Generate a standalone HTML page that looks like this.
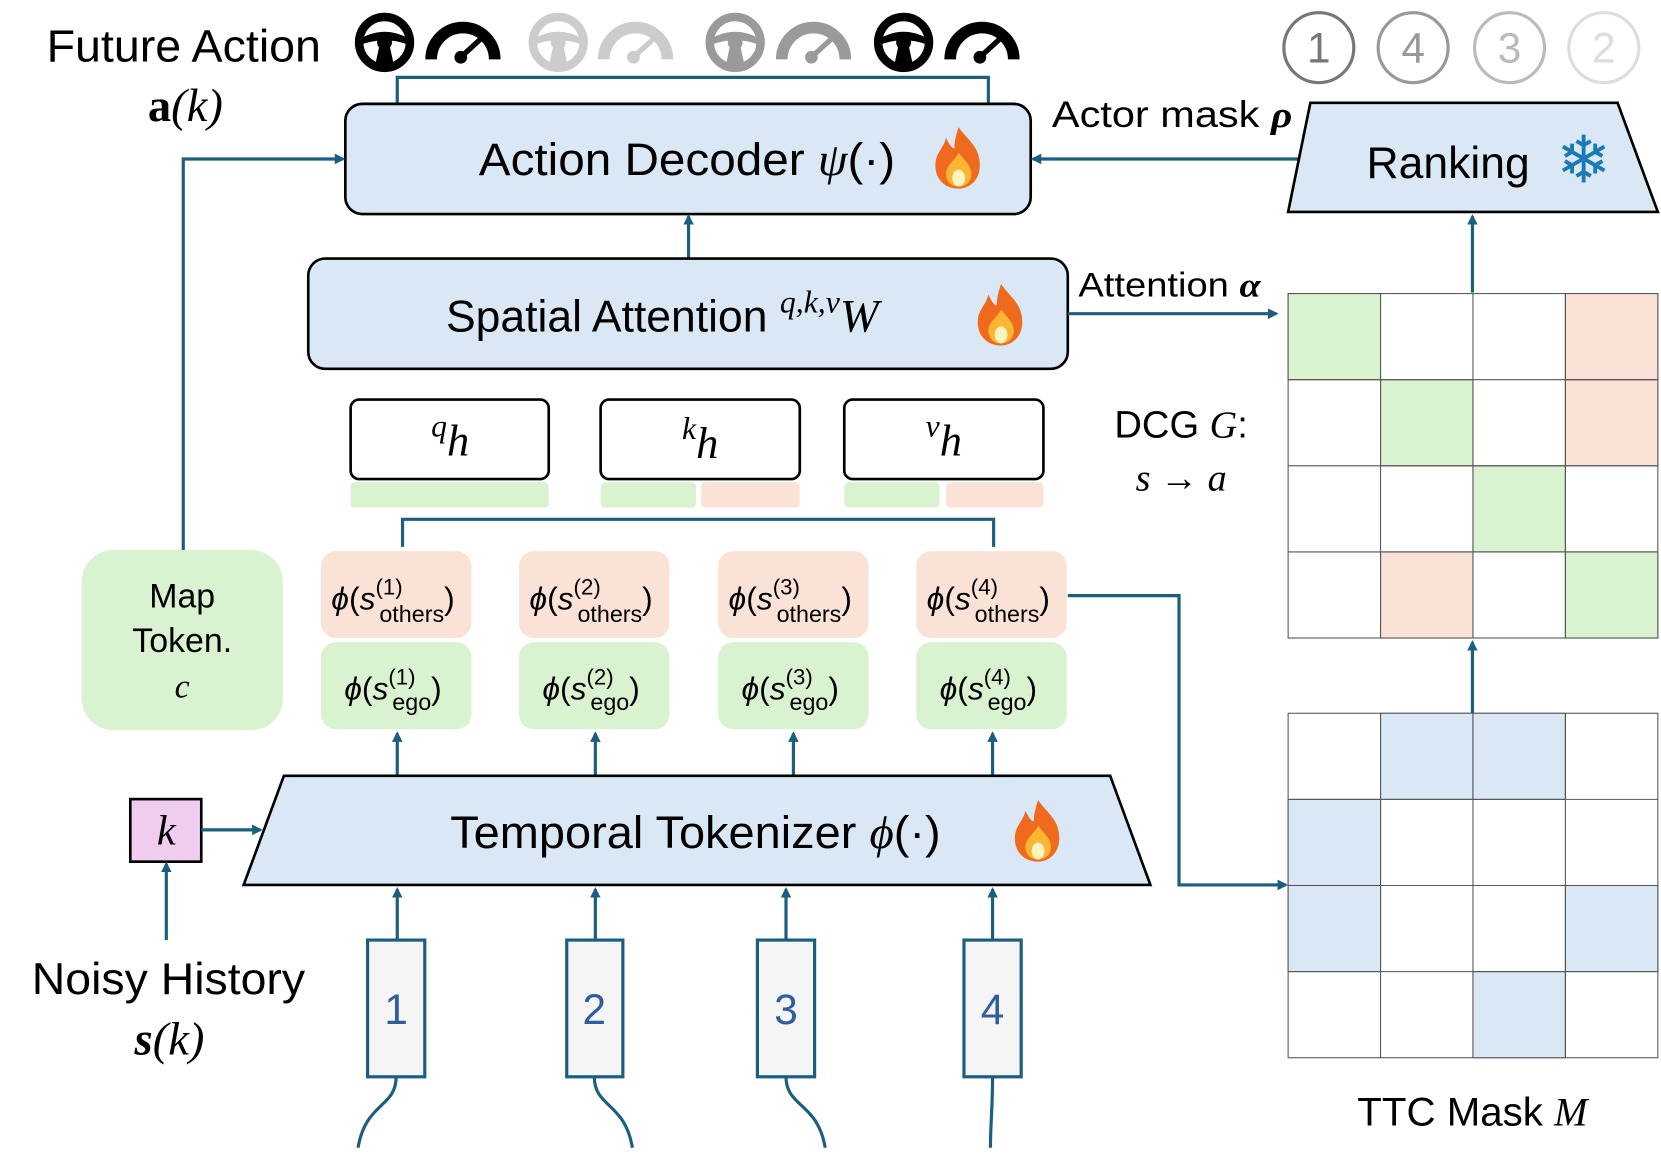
<!DOCTYPE html>
<html><head><meta charset="utf-8"><style>
html,body{margin:0;padding:0;background:#fff}
svg{display:block}
text{font-family:"Liberation Sans","DejaVu Sans",sans-serif}
.m{font-family:"Liberation Serif","DejaVu Serif",serif;font-style:italic}
</style></head><body>
<svg width="1661" height="1169" viewBox="0 0 1568 1103" preserveAspectRatio="none" xmlns="http://www.w3.org/2000/svg">
<defs>
<marker id="ar" markerWidth="10" markerHeight="10" refX="8" refY="5" orient="auto" markerUnits="userSpaceOnUse"><path d="M0,0 L10,5 L0,10 z" fill="#1b5f80"/></marker>
<g id="wheel"><circle r="24" fill="none" stroke-width="8" stroke="currentColor"/><circle r="7" fill="currentColor"/><path d="M-22,-4 Q0,-16 22,-4 L22,2 Q0,-6 -22,2z M-5,4 L-9,22 L9,22 L5,4z" fill="currentColor"/></g>
<g id="gauge"><path d="M-30,18 A30,30 0 0 1 30,18" fill="none" stroke="currentColor" stroke-width="11"/><path d="M-2,16 L22,-6" stroke="currentColor" stroke-width="5"/><circle cx="-2" cy="16" r="6" fill="currentColor"/></g>
<g id="fire"><path d="M0,-30 C8,-18 20,-12 20,6 C20,20 10,28 0,28 C-12,28 -22,20 -22,6 C-22,-6 -14,-10 -12,-20 C-8,-12 -6,-10 -4,-10 C-4,-18 -2,-24 0,-30z" fill="#f06a1e"/><path d="M0,-6 C6,2 12,6 12,14 C12,22 6,26 0,26 C-8,26 -12,20 -12,14 C-12,6 -4,2 0,-6z" fill="#fbb531"/><ellipse cx="0" cy="18" rx="6" ry="8" fill="#fff3c0"/></g>
</defs>

<text x="44" y="58" font-size="43" textLength="259" lengthAdjust="spacingAndGlyphs">Future Action</text>
<text x="175" y="114" font-size="44" class="m" text-anchor="middle"><tspan font-weight="bold" font-style="normal">a</tspan>(<tspan>k</tspan>)</text>

<g color="#000"><use href="#wheel" x="363" y="40"/><use href="#gauge" x="437" y="38"/></g>
<g color="#ccc"><use href="#wheel" x="527" y="40"/><use href="#gauge" x="600" y="38"/></g>
<g color="#9a9a9a"><use href="#wheel" x="694" y="40"/><use href="#gauge" x="768" y="38"/></g>
<g color="#000"><use href="#wheel" x="853" y="40"/><use href="#gauge" x="927" y="38"/></g>

<path d="M375,98 V73 H933 V98" fill="none" stroke="#1b5f80" stroke-width="3"/>

<rect x="326" y="98" width="647" height="104" rx="16" fill="#dae8f6" stroke="#000" stroke-width="2.5"/>
<text x="452" y="165" font-size="43" textLength="393" lengthAdjust="spacingAndGlyphs">Action Decoder <tspan class="m">ψ</tspan>(·)</text>
<use href="#fire" x="905" y="150"/>

<line x1="650" y1="243" x2="650" y2="204" stroke="#1b5f80" stroke-width="3" marker-end="url(#ar)"/>

<rect x="291" y="244" width="717" height="104" rx="16" fill="#dae8f6" stroke="#000" stroke-width="2.5"/>
<text x="421" y="313" font-size="42">Spatial Attention <tspan class="m" font-size="30" dy="-18">q,k,v</tspan><tspan class="m" font-size="44" dy="18">W</tspan></text>
<use href="#fire" x="945" y="298"/>

<line x1="1008" y1="296" x2="1205" y2="296" stroke="#1b5f80" stroke-width="3" marker-end="url(#ar)"/>
<text x="1018" y="280" font-size="32" textLength="172" lengthAdjust="spacingAndGlyphs">Attention <tspan class="m" font-weight="bold">α</tspan></text>
<text x="993" y="120" font-size="35" textLength="227" lengthAdjust="spacingAndGlyphs">Actor mask <tspan class="m" font-weight="bold">ρ</tspan></text>
<line x1="1233" y1="150" x2="975" y2="150" stroke="#1b5f80" stroke-width="3" marker-end="url(#ar)"/>

<polygon points="1237,97 1527,97 1565,200 1216,200" fill="#dae8f6" stroke="#000" stroke-width="2.5"/>
<text x="1367" y="168" font-size="42" text-anchor="middle">Ranking</text>
<text x="1495" y="172" font-size="62" text-anchor="middle" fill="#1a7ab5" font-family="DejaVu Sans">❄</text>

<g fill="none" stroke-width="3">
<circle cx="1245" cy="45" r="33" stroke="#777"/><circle cx="1334" cy="45" r="33" stroke="#999"/>
<circle cx="1425" cy="45" r="33" stroke="#bbb"/><circle cx="1514" cy="45" r="33" stroke="#ddd"/>
</g>
<g font-size="40" text-anchor="middle">
<text x="1245" y="59" fill="#777">1</text><text x="1334" y="59" fill="#999">4</text>
<text x="1425" y="59" fill="#bbb">3</text><text x="1514" y="59" fill="#ddd">2</text>
</g>

<line x1="1390" y1="276" x2="1390" y2="204" stroke="#1b5f80" stroke-width="3" marker-end="url(#ar)"/>

<g stroke="#555" stroke-width="1">
<rect x="1216" y="277" width="349" height="325" fill="#fff"/>
<rect x="1216" y="277" width="87.25" height="81.25" fill="#d9f2d0"/>
<rect x="1303.25" y="358.25" width="87.25" height="81.25" fill="#d9f2d0"/>
<rect x="1390.5" y="439.5" width="87.25" height="81.25" fill="#d9f2d0"/>
<rect x="1477.75" y="520.75" width="87.25" height="81.25" fill="#d9f2d0"/>
<rect x="1477.75" y="277" width="87.25" height="81.25" fill="#fbe2d6"/>
<rect x="1477.75" y="358.25" width="87.25" height="81.25" fill="#fbe2d6"/>
<rect x="1303.25" y="520.75" width="87.25" height="81.25" fill="#fbe2d6"/>
<path d="M1303.25,277V602M1390.5,277V602M1477.75,277V602M1216,358.25H1565M1216,439.5H1565M1216,520.75H1565" fill="none"/>
</g>
<text x="1052" y="413" font-size="36">DCG <tspan class="m">G</tspan>:</text>
<text x="1115" y="463" font-size="36" class="m" text-anchor="middle">s <tspan font-style="normal">→</tspan> a</text>

<line x1="1390" y1="673" x2="1390" y2="606" stroke="#1b5f80" stroke-width="3" marker-end="url(#ar)"/>

<g stroke="#555" stroke-width="1">
<rect x="1216" y="673" width="349" height="325" fill="#fff"/>
<rect x="1303.25" y="673" width="87.25" height="81.25" fill="#dae8f6"/>
<rect x="1390.5" y="673" width="87.25" height="81.25" fill="#dae8f6"/>
<rect x="1216" y="754.25" width="87.25" height="81.25" fill="#dae8f6"/>
<rect x="1216" y="835.5" width="87.25" height="81.25" fill="#dae8f6"/>
<rect x="1477.75" y="835.5" width="87.25" height="81.25" fill="#dae8f6"/>
<rect x="1390.5" y="916.75" width="87.25" height="81.25" fill="#dae8f6"/>
<path d="M1303.25,673V998M1390.5,673V998M1477.75,673V998M1216,754.25H1565M1216,835.5H1565M1216,916.75H1565" fill="none"/>
</g>
<text x="1390" y="1062" font-size="38" text-anchor="middle">TTC Mask <tspan class="m">M</tspan></text>

<path d="M1008,562 H1113 V835 H1214" fill="none" stroke="#1b5f80" stroke-width="3" marker-end="url(#ar)"/>

<g fill="#fff" stroke="#000" stroke-width="2.5">
<rect x="331" y="377" width="187" height="75" rx="8"/>
<rect x="567" y="377" width="188" height="75" rx="8"/>
<rect x="797" y="377" width="188" height="75" rx="8"/>
</g>
<g font-size="42" text-anchor="middle">
<text x="425" y="430" class="m"><tspan font-size="30" dy="-18">q</tspan><tspan dy="18">h</tspan></text>
<text x="661" y="432" class="m"><tspan font-size="30" dy="-18">k</tspan><tspan dy="18">h</tspan></text>
<text x="891" y="430" class="m"><tspan font-size="30" dy="-18">v</tspan><tspan dy="18">h</tspan></text>
</g>
<rect x="331" y="455" width="187" height="24" rx="4" fill="#d9f2d0"/>
<rect x="567" y="455" width="90" height="24" rx="4" fill="#d9f2d0"/>
<rect x="662" y="455" width="93" height="24" rx="4" fill="#fbe2d6"/>
<rect x="797" y="455" width="90" height="24" rx="4" fill="#d9f2d0"/>
<rect x="893" y="455" width="92" height="24" rx="4" fill="#fbe2d6"/>

<path d="M380,516 V490 H938 V516" fill="none" stroke="#1b5f80" stroke-width="3"/>

<g>
<rect x="303" y="520" width="142" height="82" rx="14" fill="#fbe2d6"/>
<rect x="490" y="520" width="142" height="82" rx="14" fill="#fbe2d6"/>
<rect x="678" y="520" width="142" height="82" rx="14" fill="#fbe2d6"/>
<rect x="865" y="520" width="142" height="82" rx="14" fill="#fbe2d6"/>
<rect x="303" y="606" width="142" height="82" rx="14" fill="#d9f2d0"/>
<rect x="490" y="606" width="142" height="82" rx="14" fill="#d9f2d0"/>
<rect x="678" y="606" width="142" height="82" rx="14" fill="#d9f2d0"/>
<rect x="865" y="606" width="142" height="82" rx="14" fill="#d9f2d0"/>
</g>
<g font-family="Liberation Serif, serif" font-size="30" text-anchor="middle">
<text x="371" y="575"><tspan font-style="italic">ϕ</tspan>(<tspan font-style="italic">s</tspan><tspan font-size="21" dy="-14">(1)</tspan><tspan font-size="22" dx="-22" dy="26">others</tspan><tspan dy="-12">)</tspan></text>
<text x="558" y="575"><tspan font-style="italic">ϕ</tspan>(<tspan font-style="italic">s</tspan><tspan font-size="21" dy="-14">(2)</tspan><tspan font-size="22" dx="-22" dy="26">others</tspan><tspan dy="-12">)</tspan></text>
<text x="746" y="575"><tspan font-style="italic">ϕ</tspan>(<tspan font-style="italic">s</tspan><tspan font-size="21" dy="-14">(3)</tspan><tspan font-size="22" dx="-22" dy="26">others</tspan><tspan dy="-12">)</tspan></text>
<text x="933" y="575"><tspan font-style="italic">ϕ</tspan>(<tspan font-style="italic">s</tspan><tspan font-size="21" dy="-14">(4)</tspan><tspan font-size="22" dx="-22" dy="26">others</tspan><tspan dy="-12">)</tspan></text>
<text x="371" y="660"><tspan font-style="italic">ϕ</tspan>(<tspan font-style="italic">s</tspan><tspan font-size="21" dy="-14">(1)</tspan><tspan font-size="22" dx="-22" dy="24">ego</tspan><tspan dy="-10">)</tspan></text>
<text x="558" y="660"><tspan font-style="italic">ϕ</tspan>(<tspan font-style="italic">s</tspan><tspan font-size="21" dy="-14">(2)</tspan><tspan font-size="22" dx="-22" dy="24">ego</tspan><tspan dy="-10">)</tspan></text>
<text x="746" y="660"><tspan font-style="italic">ϕ</tspan>(<tspan font-style="italic">s</tspan><tspan font-size="21" dy="-14">(3)</tspan><tspan font-size="22" dx="-22" dy="24">ego</tspan><tspan dy="-10">)</tspan></text>
<text x="933" y="660"><tspan font-style="italic">ϕ</tspan>(<tspan font-style="italic">s</tspan><tspan font-size="21" dy="-14">(4)</tspan><tspan font-size="22" dx="-22" dy="24">ego</tspan><tspan dy="-10">)</tspan></text>
</g>

<rect x="77" y="519" width="190" height="170" rx="30" fill="#d9f2d0"/>
<text x="172" y="573" font-size="32" text-anchor="middle">Map</text>
<text x="172" y="615" font-size="32" text-anchor="middle">Token.</text>
<text x="172" y="658" font-size="32" text-anchor="middle" class="m">c</text>
<path d="M173,519 V150 H324" fill="none" stroke="#1b5f80" stroke-width="3" marker-end="url(#ar)"/>

<g stroke="#1b5f80" stroke-width="3" marker-end="url(#ar)">
<line x1="375" y1="731" x2="375" y2="692"/><line x1="562" y1="731" x2="562" y2="692"/>
<line x1="749" y1="731" x2="749" y2="692"/><line x1="937" y1="731" x2="937" y2="692"/>
</g>

<polygon points="268,732 1048,732 1086,835 230,835" fill="#dae8f6" stroke="#000" stroke-width="2.5"/>
<text x="425" y="800" font-size="43" textLength="463" lengthAdjust="spacingAndGlyphs">Temporal Tokenizer <tspan class="m">ϕ</tspan>(·)</text>
<use href="#fire" x="980" y="785"/>

<rect x="123" y="754" width="67" height="59" fill="#f0cdef" stroke="#000" stroke-width="2.5"/>
<text x="157" y="797" font-size="40" class="m" text-anchor="middle">k</text>
<line x1="190" y1="783" x2="246" y2="783" stroke="#1b5f80" stroke-width="3" marker-end="url(#ar)"/>
<line x1="157" y1="887" x2="157" y2="815" stroke="#1b5f80" stroke-width="3" marker-end="url(#ar)"/>

<text x="30" y="938" font-size="42" textLength="258" lengthAdjust="spacingAndGlyphs">Noisy History</text>
<text x="160" y="995" font-size="44" class="m" text-anchor="middle"><tspan font-weight="bold">s</tspan>(k)</text>

<g stroke="#1b5f80" stroke-width="3" marker-end="url(#ar)">
<line x1="375" y1="887" x2="375" y2="839"/><line x1="562" y1="887" x2="562" y2="839"/>
<line x1="742" y1="887" x2="742" y2="839"/><line x1="937" y1="887" x2="937" y2="839"/>
</g>
<g fill="#f5f5f5" stroke="#1b5f80" stroke-width="3">
<rect x="347" y="887" width="54" height="129"/><rect x="535" y="887" width="53" height="129"/>
<rect x="715" y="887" width="54" height="129"/><rect x="910" y="887" width="54" height="129"/>
</g>
<g font-size="40" fill="#2e5e9e" text-anchor="middle">
<text x="374" y="966">1</text><text x="561" y="966">2</text><text x="742" y="966">3</text><text x="937" y="966">4</text>
</g>
<g fill="none" stroke="#1b5f80" stroke-width="3">
<path d="M374,1016 C374,1045 345,1040 338,1083"/>
<path d="M561,1016 C561,1045 590,1040 597,1083"/>
<path d="M742,1016 C742,1045 772,1040 779,1083"/>
<path d="M937,1016 C937,1045 935,1060 935,1083"/>
</g>
</svg>
</body></html>
